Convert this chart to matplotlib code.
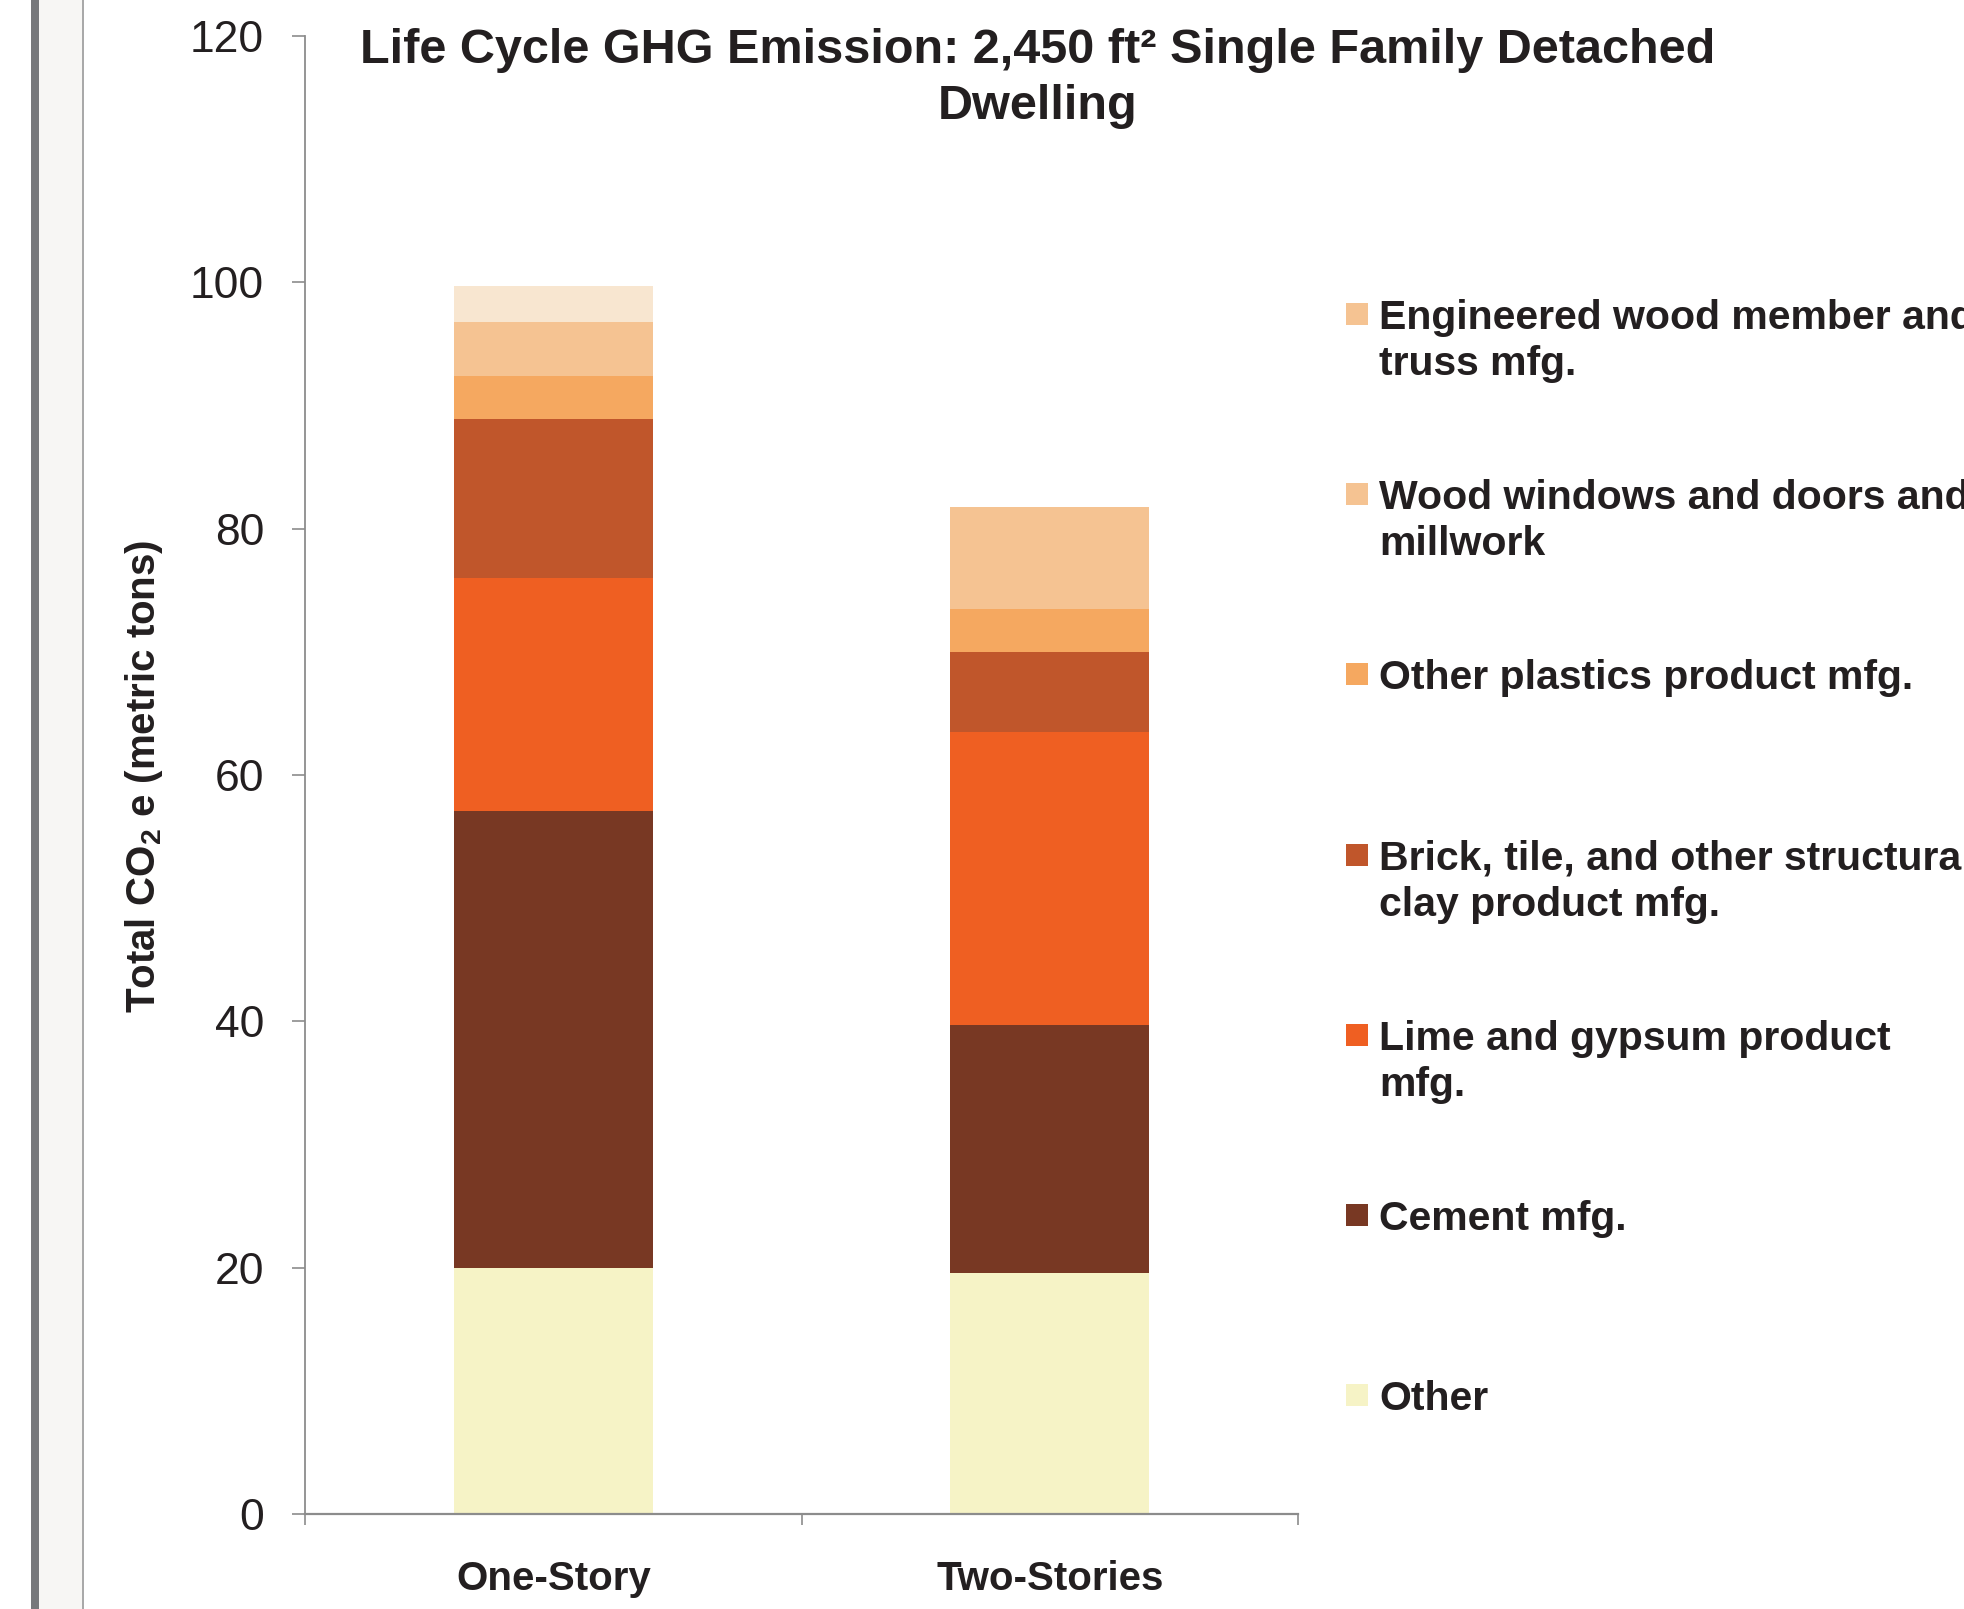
import matplotlib
matplotlib.use("Agg")
import matplotlib.pyplot as plt
from matplotlib.patches import Rectangle
import numpy as np

plt.rcParams['font.family'] = ['Liberation Sans', 'DejaVu Sans']
plt.rcParams['mathtext.fontset'] = 'custom'
plt.rcParams['mathtext.rm'] = 'Liberation Sans'
plt.rcParams['mathtext.bf'] = 'Liberation Sans:bold'

TEXT = '#231f20'
AXIS = '#8c8c8c'

houses = ['One-Story', 'Two-Stories']

# stacked bottom to top, metric tons CO2e
other = [19.95, 19.55]
cement = [37.15, 20.15]
lime_gypsum = [18.9, 23.8]
brick_clay = [12.9, 6.5]
plastics = [3.5, 3.5]
wood_windows = [4.4, 6.5]
engineered_wood = [2.9, 1.75]

series = [
    ('Other', other, '#f6f3c6'),
    ('Cement mfg.', cement, '#783823'),
    ('Lime and gypsum product\nmfg.', lime_gypsum, '#ef5f22'),
    ('Brick, tile, and other structural\nclay product mfg.', brick_clay, '#c0562b'),
    ('Other plastics product mfg.', plastics, '#f5a860'),
    ('Wood windows and doors and\nmillwork', wood_windows, '#f5c392'),
    ('Engineered wood member and\ntruss mfg.', engineered_wood, '#f5c392'),
]
# the one-story engineered wood segment is shaded lighter
engineered_bar_colors = ['#f8e6d0', '#f5c392']

W, H = 1965, 1609
fig = plt.figure(figsize=(W / 100, H / 100), dpi=100)
fig.patch.set_facecolor('white')

# side strip on the left edge
fig.patches.append(Rectangle((31 / W, 0), 8 / W, 1, transform=fig.transFigure,
                             facecolor='#77787b', edgecolor='none'))
fig.patches.append(Rectangle((39 / W, 0), 43 / W, 1, transform=fig.transFigure,
                             facecolor='#f7f6f4', edgecolor='none'))
fig.patches.append(Rectangle((82 / W, 0), 1.6 / W, 1, transform=fig.transFigure,
                             facecolor='#a9a9a9', edgecolor='none'))

ax = fig.add_axes([305 / W, (H - 1514) / H, 993 / W, (1514 - 36) / H])
x = np.arange(len(houses))
bottom = np.zeros(len(houses))
for name, vals, color in series:
    colors = engineered_bar_colors if vals is engineered_wood else color
    ax.bar(x, vals, width=0.4, bottom=bottom, color=colors, edgecolor='none')
    bottom += np.array(vals)

ax.set_xlim(-0.5, 1.5)
ax.set_ylim(0, 120)
ax.set_yticks(range(0, 121, 20))
ax.set_xticks(x)
ax.set_xticklabels(houses, fontsize=29, fontweight='bold', color=TEXT)
ax.set_xticks([-0.5, 0.5, 1.5], minor=True)
ax.tick_params(axis='x', which='major', length=0, pad=33)
ax.tick_params(axis='x', which='minor', length=8, width=1.2, color=AXIS, direction='out')
ax.tick_params(axis='y', length=9.5, width=1.2, color=AXIS, labelsize=32,
               labelcolor=TEXT, pad=20)
for side in ['top', 'right']:
    ax.spines[side].set_visible(False)
for side in ['left', 'bottom']:
    ax.spines[side].set_color(AXIS)
    ax.spines[side].set_linewidth(1.3)
ax.spines['bottom'].set_linewidth(1.6)

fig.text(144 / W, (H - 776) / H, r'Total CO$_\mathbf{2}$ e (metric tons)',
         rotation=90, ha='center', va='center', fontsize=29, fontweight='bold', color=TEXT)

fig.text(1038 / W, (H - 63) / H, 'Life Cycle GHG Emission: 2,450 ft\u00b2 Single Family Detached',
         ha='center', va='baseline', fontsize=35, fontweight='bold', color=TEXT)
fig.text(1038 / W, (H - 119) / H, 'Dwelling',
         ha='center', va='baseline', fontsize=35, fontweight='bold', color=TEXT)

# legend, top entry is the top of the stack
row_y = 314
for name, vals, color in reversed(series):
    fig.patches.append(Rectangle((1346 / W, (H - row_y - 11) / H), 22 / W, 22 / H,
                                 transform=fig.transFigure, facecolor=color, edgecolor='none'))
    for i, line in enumerate(name.split('\n')):
        fig.text(1379 / W, (H - row_y - 15 - i * 46) / H, line, ha='left', va='baseline',
                 fontsize=29.5, fontweight='bold', color=TEXT)
    row_y += 180.2

fig.savefig('out.png', dpi=100, facecolor='white')
